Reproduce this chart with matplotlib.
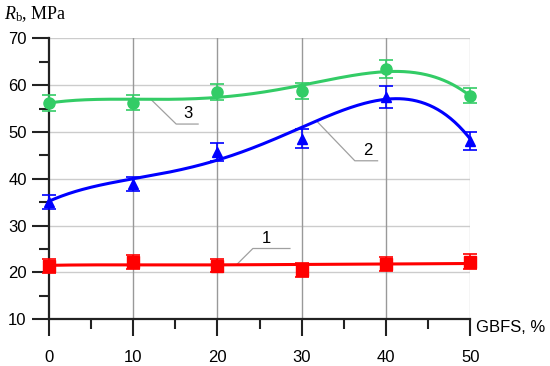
import numpy as np
import matplotlib
matplotlib.use('Agg')
import matplotlib.pyplot as plt

# GBFS content, %
gbfs = [0, 10, 20, 30, 40, 50]

# measured strength (points) and error half-widths
r1 = [21.4, 22.3, 21.4, 20.5, 21.8, 22.3]
e1 = [1.45, 1.5, 1.4, 1.55, 1.5, 1.6]
r2 = [35.1, 38.9, 45.8, 48.6, 57.5, 48.1]
e2 = [1.5, 1.5, 1.9, 2.0, 2.3, 1.9]
r3 = [56.2, 56.3, 58.5, 58.8, 63.4, 57.8]
e3 = [1.7, 1.6, 1.7, 1.7, 1.9, 1.7]

# fitted curve values read at the same GBFS levels
fit1 = [21.5, 21.6, 21.6, 21.7, 21.8, 21.9]
fit2 = [35.2, 40.0, 44.0, 51.0, 57.0, 48.5]
fit3 = [56.2, 57.0, 57.4, 60.0, 62.9, 57.7]

yticks = [10, 20, 30, 40, 50, 60, 70]
xticks = [0, 10, 20, 30, 40, 50]

plt.rcParams['font.family'] = ['Liberation Sans', 'DejaVu Sans']
plt.rcParams['mathtext.fontset'] = 'custom'
plt.rcParams['mathtext.rm'] = 'Liberation Serif'
plt.rcParams['mathtext.it'] = 'Liberation Serif:italic'

fig = plt.figure(figsize=(5.5, 3.66), dpi=100)
ax = fig.add_axes([0.089, 0.128, 0.766, 0.767])

series = [
    (r1, e1, fit1, '#ff0000', 's', 8),
    (r2, e2, fit2, '#0000ff', '^', 7),
    (r3, e3, fit3, '#33cc66', 'o', 8),
]

xs = np.linspace(0, 50, 300)
for r, e, fit, col, mk, ms in series:
    coef = np.polyfit(gbfs, fit, 5)
    ax.plot(xs, np.polyval(coef, xs), color=col, lw=2.2, zorder=3)
    ax.errorbar(gbfs, r, yerr=e, fmt=mk, color=col, ms=ms, capsize=5,
                elinewidth=1.2, capthick=1.2, zorder=4, clip_on=False)

# leader lines and curve numbers
lead = '#a0a0a0'
ax.plot([22.3, 24.2, 28.6], [21.7, 25.1, 25.1], color=lead, lw=0.9, zorder=2)
ax.text(25.8, 27.3, '1', fontsize=12, ha='center', va='center')
ax.plot([31.9, 36.3, 39.0], [52.1, 43.85, 43.85], color=lead, lw=0.9, zorder=2)
ax.text(37.9, 46.1, '2', fontsize=12, ha='center', va='center')
ax.plot([12.2, 15.1, 17.7], [56.8, 51.7, 51.7], color=lead, lw=0.9, zorder=2)
ax.text(16.5, 54.0, '3', fontsize=12, ha='center', va='center')

ax.set_xlim(0, 50)
ax.set_ylim(10, 70)
ax.set_xticks(xticks)
ax.set_yticks(yticks)
ax.set_xticks([5, 15, 25, 35, 45], minor=True)
ax.set_yticks([15, 25, 35, 45, 55, 65], minor=True)
ax.tick_params(axis='y', which='major', labelsize=12, length=12, width=1.5,
               color='#222222', pad=4)
ax.tick_params(axis='x', which='major', labelsize=12, length=12, width=1.5,
               color='#222222', pad=10)
ax.tick_params(axis='both', which='minor', length=7, width=1.5, color='#222222')

for y in yticks[1:]:
    ax.axhline(y, color='#cccccc', lw=1, zorder=1)
for x in xticks[1:-1]:
    ax.axvline(x, color='#999999', lw=1, zorder=1)
ax.axvline(50, color='#cccccc', lw=1, zorder=1)

ax.spines['left'].set_color('#222222')
ax.spines['left'].set_linewidth(1.6)
ax.spines['bottom'].set_color('#222222')
ax.spines['bottom'].set_linewidth(1.6)
ax.spines['top'].set_visible(False)
ax.spines['right'].set_visible(False)

fig.text(0.008, 0.962, r'$R_\mathrm{b}$, MPa', fontsize=13,
         family=['Liberation Serif', 'DejaVu Serif'], va='center')
fig.text(0.866, 0.104, 'GBFS, %', fontsize=12, va='center')

fig.savefig('out.png', dpi=100)
